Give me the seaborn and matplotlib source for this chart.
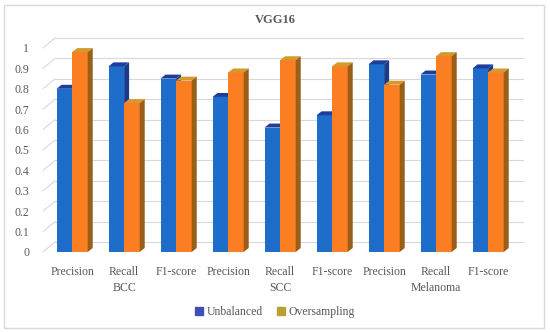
import matplotlib
matplotlib.use("Agg")
import matplotlib.pyplot as plt
from matplotlib.patches import Polygon, Patch, Rectangle
import pandas as pd
import seaborn as sns

groups = ["BCC", "SCC", "Melanoma"]
metrics = ["Precision", "Recall", "F1-score"]
unbalanced = [0.80, 0.91, 0.85, 0.76, 0.61, 0.67, 0.92, 0.87, 0.90]
oversampling = [0.98, 0.73, 0.84, 0.88, 0.94, 0.91, 0.82, 0.96, 0.88]
series = ["Unbalanced", "Oversampling"]

FONT = ["Liberation Serif", "DejaVu Serif"]
TXT = "#595959"
GRID = "#D9D9D9"


def main():
    sns.set_style("white")
    plt.rcParams["font.family"] = FONT

    keys = [g + "|" + m for g in groups for m in metrics]
    df = pd.DataFrame({
        "key": keys * 2,
        "value": unbalanced + oversampling,
        "series": [series[0]] * len(keys) + [series[1]] * len(keys),
    })

    fig = plt.figure(figsize=(5.5, 3.32), dpi=100)
    ax = fig.add_axes([43 / 550, (332 - 252) / 332, 468 / 550, 204 / 332])

    front = {"Unbalanced": "#1F6DCB", "Oversampling": "#FB7E22"}
    top_c = {"Unbalanced": "#1E3E9E", "Oversampling": "#D49A30"}
    side_c = {"Unbalanced": "#1A3A8C", "Oversampling": "#9A5E18"}

    sns.barplot(data=df, x="key", y="value", hue="series", order=keys,
                hue_order=series, palette=front, width=0.6, gap=0,
                legend=False, saturation=1, ax=ax, linewidth=0)

    ax.set_xlim(-0.56, 8.44)
    ax.set_ylim(0, 1)

    # fake 3d depth, in data units
    dx, dy = 5 / 52, 4 / 204
    gx, gy = 12 / 52, 10 / 204

    for i, cont in enumerate(ax.containers):
        name = series[i]
        for bar in cont:
            x0, w, h = bar.get_x(), bar.get_width(), bar.get_height()
            bar.set_zorder(3 + 2 * i)
            ax.add_patch(Polygon([(x0, h), (x0 + dx, h + dy), (x0 + w + dx, h + dy), (x0 + w, h)],
                                 closed=True, fc=top_c[name], ec="none", zorder=3 + 2 * i, clip_on=False))
            ax.add_patch(Polygon([(x0 + w, 0), (x0 + w + dx, dy), (x0 + w + dx, h + dy), (x0 + w, h)],
                                 closed=True, fc=side_c[name], ec="none", zorder=3 + 2 * i, clip_on=False))

    # back wall gridlines + left diagonals
    ticks = [i / 10 for i in range(11)]
    x_lo, x_hi = ax.get_xlim()
    for v in ticks:
        ax.plot([x_lo + gx, x_hi + gx], [v + gy, v + gy], color=GRID, lw=0.8, zorder=1, clip_on=False)
        ax.plot([x_lo, x_lo + gx], [v, v + gy], color=GRID, lw=0.8, zorder=1, clip_on=False)

    ax.set_yticks(ticks)
    ax.set_yticklabels(["0", "0.1", "0.2", "0.3", "0.4", "0.5", "0.6", "0.7", "0.8", "0.9", "1"])
    ax.set_xticks(range(len(keys)))
    ax.set_xticklabels(metrics * len(groups))
    ax.tick_params(axis="x", length=0, pad=10, labelsize=8.5, labelcolor=TXT)
    ax.tick_params(axis="y", length=0, pad=10, labelsize=8.5, labelcolor=TXT)
    ax.set_xlabel("")
    ax.set_ylabel("")
    sns.despine(ax=ax, left=True, bottom=True)
    ax.grid(False)

    for j, g in enumerate(groups):
        ax.text(j * 3 + 1, -36 / 204, g, transform=ax.get_xaxis_transform(),
                ha="center", va="center", fontsize=8.5, color=TXT)

    fig.text(0.5, 1 - 20 / 332, "VGG16", ha="center", va="center",
             fontsize=9, fontweight="bold", color=TXT)

    handles = [Patch(color="#3F50B4", label="Unbalanced"),
               Patch(color="#B9A033", label="Oversampling")]
    fig.legend(handles=handles, loc="center", bbox_to_anchor=(0.5, 1 - 312 / 332),
               ncol=2, frameon=False, fontsize=8.5, labelcolor=TXT,
               handlelength=0.7, handleheight=0.7, handletextpad=0.3, columnspacing=1.2)

    fig.add_artist(Rectangle((4 / 550, 4 / 332), 540 / 550, 323 / 332, transform=fig.transFigure,
                             fill=False, ec=GRID, lw=1))

    fig.savefig("out.png", dpi=100)


if __name__ == "__main__":
    main()
